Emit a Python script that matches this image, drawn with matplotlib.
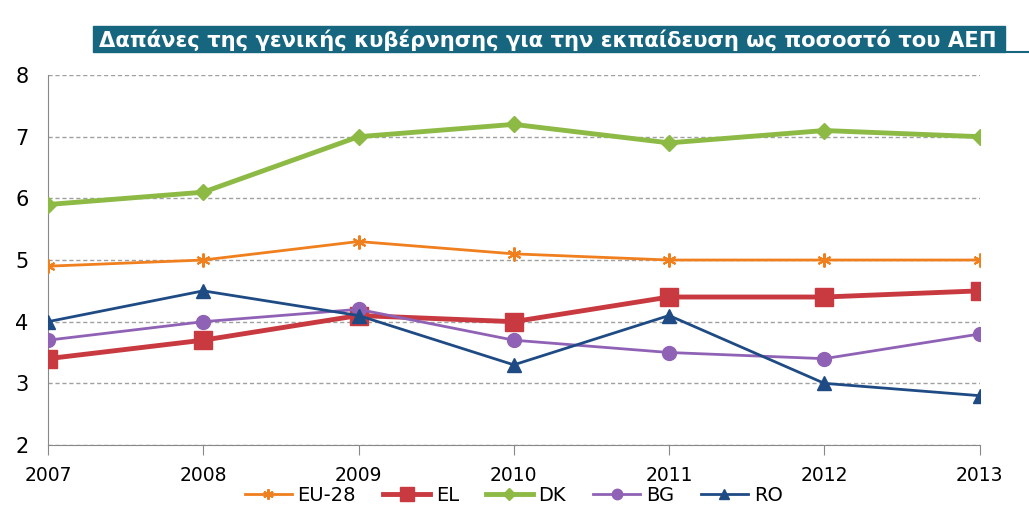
import matplotlib.pyplot as plt
from matplotlib.patches import Rectangle

years = [2007, 2008, 2009, 2010, 2011, 2012, 2013]
eu28 = [4.9, 5.0, 5.3, 5.1, 5.0, 5.0, 5.0]
el = [3.4, 3.7, 4.1, 4.0, 4.4, 4.4, 4.5]
dk = [5.9, 6.1, 7.0, 7.2, 6.9, 7.1, 7.0]
bg = [3.7, 4.0, 4.2, 3.7, 3.5, 3.4, 3.8]
ro = [4.0, 4.5, 4.1, 3.3, 4.1, 3.0, 2.8]

title = "Δαπάνες της γενικής κυβέρνησης για την εκπαίδευση ως ποσοστό του ΑΕΠ"

fig = plt.figure(figsize=(10.29, 5.07), dpi=100)
ax = fig.add_axes([0.0466, 0.1223, 0.9054, 0.7297])

ax.plot(years, eu28, color='#F07F1E', lw=2, marker=(6, 2, 0), ms=10, mew=1.5, label='EU-28', zorder=3)
ax.plot(years, el, color='#C83A40', lw=3.5, marker='s', ms=13, label='EL', zorder=3)
ax.plot(years, dk, color='#8DBA45', lw=3.5, marker='D', ms=8, label='DK', zorder=3)
ax.plot(years, bg, color='#9062B5', lw=2, marker='o', ms=10, label='BG', zorder=3)
ax.plot(years, ro, color='#1F4B85', lw=2, marker='^', ms=10, label='RO', zorder=3)

ax.set_xlim(2007, 2013)
ax.set_ylim(2, 8)
ax.set_yticks(range(2, 9))
ax.set_xticks(years)
ax.yaxis.grid(True, color='#a0a0a0', ls=(0, (3, 2)), lw=1)
ax.set_axisbelow(True)
for s in ['top', 'right']:
    ax.spines[s].set_visible(False)
for s in ['left', 'bottom']:
    ax.spines[s].set_color('#888888')
ax.tick_params(axis='x', direction='out', length=7, color='#888888', labelsize=13.5, pad=8)
ax.tick_params(axis='y', length=0, labelsize=15, pad=14)

leg = ax.legend(loc='upper center', bbox_to_anchor=(0.5, -0.09), ncol=5, frameon=False,
                fontsize=14, handlelength=2.4, handletextpad=0.3, columnspacing=1.4,
                borderaxespad=0, markerscale=0.75)

# title bar
fig.patches.append(Rectangle((93 / 1029, 1 - 52 / 507), 912 / 1029, 26 / 507,
                             transform=fig.transFigure, color='#17667F', zorder=0))
fig.add_artist(plt.Line2D([1005 / 1029, 1.0], [1 - 52 / 507, 1 - 52 / 507], color='#17667F', lw=1.5))
fig.text(99 / 1029, 1 - 40 / 507, title, color='white', fontsize=15.2, fontweight='bold',
         va='center', ha='left')

fig.savefig('out.png', dpi=100)
